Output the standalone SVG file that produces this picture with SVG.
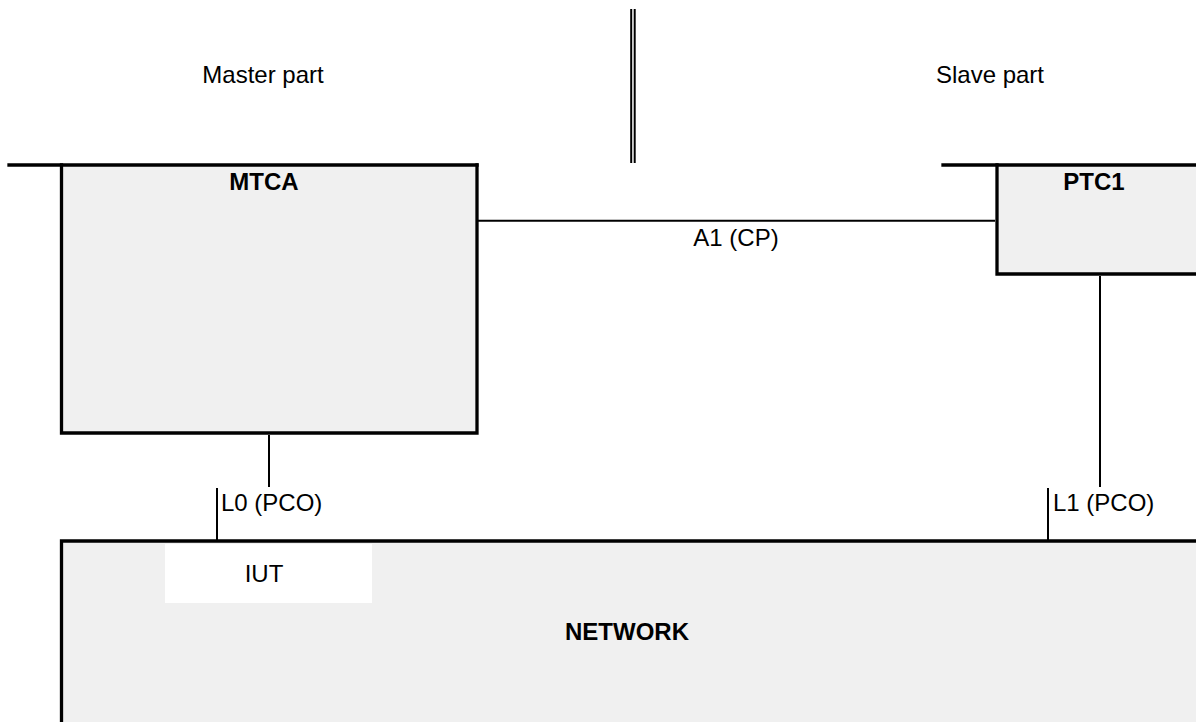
<svg xmlns="http://www.w3.org/2000/svg" width="1196" height="722" viewBox="0 0 1196 722">
<style>
text{font-family:"Liberation Sans",Arial,sans-serif;font-size:24px;fill:#000}
.b{font-weight:bold}
.m{text-anchor:middle}
.box{fill:#f0f0f0;stroke:none}
.edge{fill:none;stroke:#000;stroke-width:3.3;stroke-linecap:square}
.conn{fill:none;stroke:#000;stroke-width:2}
</style>
<rect width="1196" height="722" fill="#fff"/>
<g id="labels">
<text class="m" x="263" y="83">Master part</text>
<text class="m" x="990" y="83">Slave part</text>
</g>
<g id="divider">
<line class="conn" x1="631.2" y1="9" x2="631.2" y2="163"/>
<line class="conn" x1="634.7" y1="9" x2="634.7" y2="163"/>
</g>
<g id="network">
<rect class="box" x="61.5" y="541" width="1134.5" height="181"/>
<rect x="165" y="544" width="207" height="59" fill="#fff"/>
<path class="edge" d="M61.5 722 V541 H1196"/>
<text class="m" x="264" y="582">IUT</text>
<text class="m b" x="627" y="640">NETWORK</text>
</g>
<g id="mtca">
<rect class="box" x="61.5" y="165" width="415.5" height="268"/>
<path class="edge" d="M61.5 165 V433 H477 V165"/>
<line class="edge" x1="9" y1="165" x2="477" y2="165"/>
<text class="m b" x="264" y="190">MTCA</text>
</g>
<g id="ptc1">
<rect class="box" x="997" y="165" width="199" height="109"/>
<path class="edge" d="M997 165 V274 H1196"/>
<line class="edge" x1="943" y1="165" x2="1196" y2="165"/>
<text class="m b" x="1094" y="190">PTC1</text>
</g>
<g id="connectors">
<line class="conn" x1="478" y1="220.7" x2="995" y2="220.7"/>
<line class="conn" x1="1100" y1="276" x2="1100" y2="487"/>
<line class="conn" x1="1048" y1="488" x2="1048" y2="540"/>
<line class="conn" x1="269" y1="435" x2="269" y2="487"/>
<line class="conn" x1="217" y1="488" x2="217" y2="540"/>
<text class="m" x="736" y="246">A1 (CP)</text>
<text x="221" y="511">L0 (PCO)</text>
<text x="1053" y="511">L1 (PCO)</text>
</g>
</svg>
